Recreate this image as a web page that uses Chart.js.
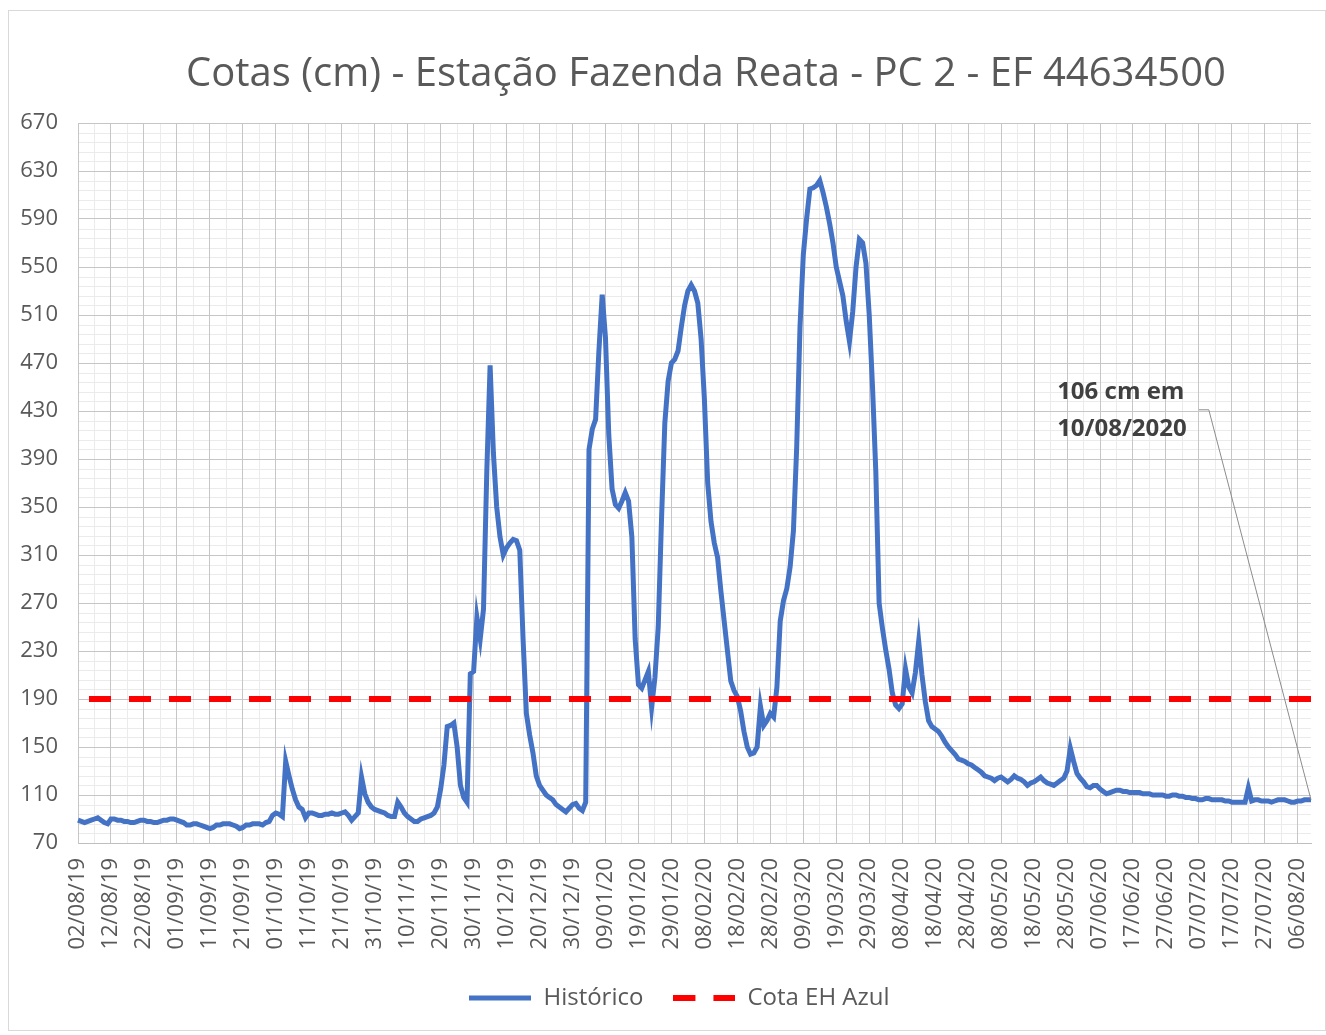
<!DOCTYPE html>
<html lang="pt-BR">
<head>
<meta charset="utf-8">
<title>Cotas (cm) - Estação Fazenda Reata</title>
<script src="https://cdn.jsdelivr.net/npm/chart.js@4.4.1/dist/chart.umd.min.js"></script>
<style>
  html, body { margin: 0; padding: 0; background: #fff; }
  .frame { position: absolute; left: 8px; top: 10px; width: 1316px; height: 1019px; border: 1px solid #d9d9d9; }
  .wrap { position: absolute; left: 0; top: 0; width: 1326px; height: 1035px; }
</style>
</head>
<body>
<div class="frame"></div>
<div class="wrap"><canvas id="chart" width="1326" height="1035"></canvas></div>
<script>
const TITULO = 'Cotas (cm) - Estação Fazenda Reata - PC 2 - EF 44634500';
const NOMES = ['Histórico', 'Cota EH Azul'];
const COTA_AZUL = 190;
const Y_MIN = 70;
const Y_MAX = 670;
const Y_PASSO = 40;
const Y_MENOR = 8;
const NOTA = ['106 cm em', '10/08/2020'];

// cota diária (cm), 02/08/19 a 10/08/20
const historico = [
  89, 88, 87, 88, 89, 90, 91, 89, 87, 86,
  90, 90, 89, 89, 88, 88, 87, 87, 88, 89,
  89, 88, 88, 87, 87, 88, 89, 89, 90, 90,
  89, 88, 87, 85, 85, 86, 86, 85, 84, 83,
  82, 83, 85, 85, 86, 86, 86, 85, 84, 82,
  83, 85, 85, 86, 86, 86, 85, 87, 88, 93,
  95, 94, 92, 138, 126, 115, 106, 100, 98, 91,
  95, 95, 94, 93, 93, 94, 94, 95, 94, 94,
  95, 96, 93, 89, 92, 95, 125, 111, 104, 100,
  98, 97, 96, 95, 93, 92, 92, 104, 100, 95,
  92, 90, 88, 88, 90, 91, 92, 93, 95, 100,
  115, 135, 167, 168, 170, 150, 118, 108, 104, 211,
  213, 258, 240, 265, 380, 468, 395, 350, 325, 310,
  316, 320, 323, 322, 314, 240, 178, 160, 145, 126,
  118, 114, 110, 108, 106, 102, 100, 98, 96, 99,
  102, 103, 99, 97, 104, 398, 415, 423, 480, 527,
  491, 410, 365, 352, 349, 355, 362, 355, 325, 240,
  202, 199, 206, 213, 183, 208, 250, 340, 420, 455,
  470, 473, 480, 500, 518, 530, 535, 530, 520, 490,
  440, 370, 338, 320, 308, 280, 255, 230, 205, 197,
  192, 180, 163, 150, 144, 145, 150, 184, 168, 172,
  178, 175, 200, 255, 272, 282, 300, 330, 400, 500,
  560, 590, 615, 616, 618, 622, 612, 600, 586, 570,
  550, 538, 526, 505, 488, 513, 550, 573, 570, 553,
  510, 450, 379, 270, 249, 231, 215, 195, 185, 182,
  186, 215, 200, 195, 212, 238, 210, 188, 172, 167,
  165, 163, 159, 154, 150, 147, 144, 140, 139, 138,
  136, 135, 133, 131, 129, 126, 125, 124, 122, 124,
  125, 123, 121, 123, 126, 124, 123, 121, 118, 120,
  121, 123, 125, 122, 120, 119, 118, 120, 122, 124,
  130, 149, 138, 128, 124, 121, 117, 116, 118, 118,
  115, 113, 111, 112, 113, 114, 114, 113, 113, 112,
  112, 112, 112, 111, 111, 111, 110, 110, 110, 110,
  109, 109, 110, 110, 109, 109, 108, 108, 107, 107,
  106, 106, 107, 107, 106, 106, 106, 106, 105, 105,
  104, 104, 104, 104, 104, 116, 105, 106, 106, 105,
  105, 105, 104, 105, 106, 106, 106, 105, 104, 104,
  105, 105, 106, 106, 106,
];

// one category per day starting 02/08/19
const pad2 = n => String(n).padStart(2, '0');
const datas = historico.map((_, i) => {
  const d = new Date(2019, 7, 2 + i);
  return `${pad2(d.getDate())}/${pad2(d.getMonth() + 1)}/${pad2(d.getFullYear() % 100)}`;
});
const cotaAzul = datas.map(() => COTA_AZUL);

const FONTE = "'Open Sans', 'Noto Sans', sans-serif";
const CINZA_TEXTO = '#595959';
const GRADE_MAIOR = '#c6c6c6';
const GRADE_MENOR = '#ebebeb';
const AZUL = '#4472C4';
const VERMELHO = '#FF0000';

// legend samples drawn as small canvases
const amostra = (cor, largura, traco) => {
  const c = document.createElement('canvas');
  c.width = 62;
  c.height = 8;
  const g = c.getContext('2d');
  g.strokeStyle = cor;
  g.lineWidth = largura;
  g.setLineDash(traco);
  g.beginPath();
  g.moveTo(0, 4);
  g.lineTo(62, 4);
  g.stroke();
  return c;
};

const gradeMenorPlugin = {
  id: 'gradeMenor',
  beforeDraw(chart) {
    const { ctx, chartArea: { left, right }, scales: { y } } = chart;
    ctx.save();
    ctx.strokeStyle = GRADE_MENOR;
    ctx.lineWidth = 1;
    ctx.beginPath();
    for (let v = Y_MIN + Y_MENOR; v < Y_MAX; v += Y_MENOR) {
      if ((v - Y_MIN) % Y_PASSO === 0) continue;
      const py = Math.round(y.getPixelForValue(v)) + 0.5;
      ctx.moveTo(left, py);
      ctx.lineTo(right, py);
    }
    ctx.stroke();
    ctx.restore();
  },
};

const legendaPlugin = {
  id: 'legendaDesloc',
  afterLayout(chart) {
    chart.legend.left += 24;
    chart.legend.right += 24;
  },
};

const tituloPlugin = {
  id: 'titulo',
  afterDraw(chart) {
    const { ctx } = chart;
    ctx.save();
    ctx.font = `40px ${FONTE}`;
    ctx.fillStyle = CINZA_TEXTO;
    ctx.textAlign = 'center';
    ctx.textBaseline = 'middle';
    ctx.fillText(TITULO, 706, 75);
    ctx.restore();
  },
};

const notaPlugin = {
  id: 'nota',
  afterDatasetsDraw(chart) {
    const { ctx, scales: { x, y } } = chart;
    const last = historico.length - 1;
    const tx = x.getPixelForValue(297);
    ctx.save();
    ctx.font = `bold 24px ${FONTE}`;
    ctx.fillStyle = '#404040';
    ctx.textAlign = 'left';
    ctx.textBaseline = 'middle';
    ctx.fillText(NOTA[0], tx, y.getPixelForValue(446));
    ctx.fillText(NOTA[1], tx, y.getPixelForValue(415));
    ctx.strokeStyle = '#8c8c8c';
    ctx.lineWidth = 1;
    ctx.beginPath();
    ctx.moveTo(x.getPixelForValue(340), y.getPixelForValue(431));
    ctx.lineTo(x.getPixelForValue(343), y.getPixelForValue(431));
    ctx.lineTo(x.getPixelForValue(last), y.getPixelForValue(historico[last]));
    ctx.stroke();
    ctx.restore();
  },
};

new Chart(document.getElementById('chart'), {
  type: 'line',
  data: {
    labels: datas,
    datasets: [
      {
        label: NOMES[0],
        data: historico,
        borderColor: AZUL,
        backgroundColor: AZUL,
        borderWidth: 5,
        pointRadius: 0,
        pointStyle: amostra(AZUL, 5, []),
        tension: 0,
        order: 1,
      },
      {
        label: NOMES[1],
        data: cotaAzul,
        borderColor: VERMELHO,
        backgroundColor: VERMELHO,
        borderWidth: 6,
        borderDash: [22, 18],
        borderDashOffset: 29,
        pointRadius: 0,
        pointStyle: amostra(VERMELHO, 6, [22, 18]),
        order: 0,
      },
    ],
  },
  options: {
    responsive: false,
    animation: false,
    events: [],
    layout: { padding: { top: 123, left: 0, right: 15, bottom: 15 } },
    plugins: {
      title: { display: false },
      tooltip: { enabled: false },
      legend: {
        position: 'bottom',
        labels: {
          usePointStyle: true,
          pointStyleWidth: 62,
          boxWidth: 62,
          padding: 30,
          color: CINZA_TEXTO,
          font: { family: FONTE, size: 24 },
          sort: (a, b) => a.datasetIndex - b.datasetIndex,
        },
      },
    },
    scales: {
      x: {
        offset: false,
        afterFit(scale) {
          scale.height = 113;
          scale.paddingLeft = 0;
          scale.paddingRight = 0;
        },
        grid: {
          offset: false,
          drawTicks: false,
          color: c => (c.index % 10 === 0 ? GRADE_MAIOR : c.index % 5 === 0 ? GRADE_MENOR : 'rgba(0,0,0,0)'),
        },
        border: { color: '#bfbfbf' },
        ticks: {
          autoSkip: false,
          minRotation: 90,
          maxRotation: 90,
          padding: 15,
          color: CINZA_TEXTO,
          font: { family: FONTE, size: 22 },
          callback(value, index) {
            return index % 10 === 0 ? this.getLabelForValue(value) : '';
          },
        },
      },
      y: {
        min: Y_MIN,
        max: Y_MAX,
        afterFit(scale) {
          scale.width = 78;
        },
        grid: {
          drawTicks: false,
          color: GRADE_MAIOR,
        },
        border: { color: GRADE_MAIOR },
        ticks: {
          stepSize: Y_PASSO,
          padding: 20,
          color: CINZA_TEXTO,
          font: { family: FONTE, size: 22 },
        },
      },
    },
  },
  plugins: [gradeMenorPlugin, legendaPlugin, tituloPlugin, notaPlugin],
});
</script>
</body>
</html>
